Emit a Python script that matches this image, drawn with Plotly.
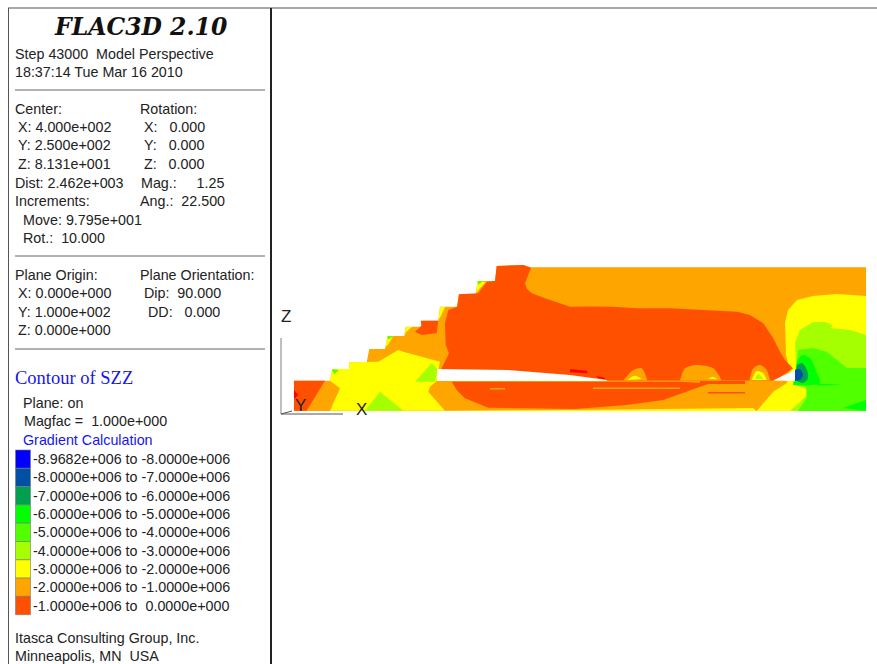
import plotly.graph_objects as go

# contour band colours (legend order)
band_colors = ["#0000FF", "#0050A5", "#00A050", "#00FF00", "#50FF00", "#A5FF00", "#FFFF00", "#FFA500", "#FF5000"]
band_labels = ["-8.9682e+006 to -8.0000e+006", "-8.0000e+006 to -7.0000e+006", "-7.0000e+006 to -6.0000e+006",
               "-6.0000e+006 to -5.0000e+006", "-5.0000e+006 to -4.0000e+006", "-4.0000e+006 to -3.0000e+006",
               "-3.0000e+006 to -2.0000e+006", "-2.0000e+006 to -1.0000e+006", "-1.0000e+006 to  0.0000e+000"]
ORANGE_RED, ORANGE, YELLOW, CHART, LIME, GREEN, SEA, STEEL = "#FF5000", "#FFA500", "#FFFF00", "#A5FF00", "#50FF00", "#00FF00", "#00A050", "#0050A5"
RED = "#FF0000"

# model outline
outline_x = [294, 330, 332.3, 349, 349, 366.7, 369.3, 385, 387.7, 404.3, 405.7, 420.7, 421.7, 438.3, 440, 456.7, 459, 475.7, 477.7, 495, 496.7, 523.3, 531, 866, 866, 294]
outline_y = [380.7, 380.7, 369, 369, 362.3, 362.3, 349, 349, 336, 336, 326.7, 326.7, 320.7, 320.7, 306.7, 306.7, 294, 294, 281, 281, 266, 265, 267.3, 267.3, 411, 411]
# stress regions, painted in order
toe_x = [294, 325, 306.7, 294]
toe_y = [380.7, 380.7, 410.7, 410.7]
toe_red_x = [294, 298.3, 295, 294]
toe_red_y = [390, 395, 398.3, 398]
yellow_left_x = [332.3, 349, 349, 366.7, 378.3, 398.3, 405, 421.7, 440, 438.3, 436.7, 430, 428.3, 445, 330, 340, 330]
yellow_left_y = [369, 369, 362.3, 362.3, 361.7, 350, 352.3, 356.7, 361.7, 370, 381, 386.7, 391.7, 410.7, 410.7, 388.3, 380.7]
chart_tri_x = [365, 380, 403.3]
chart_tri_y = [410.7, 391.7, 410.7]
chart_seam_x = [415, 431.7, 437.3, 435]
chart_seam_y = [381.7, 363.3, 369, 381.7]
pocket_x = [420.7, 438.3, 436.7, 421.7, 415, 421.7]
pocket_y = [320.7, 320.7, 333.3, 335, 331.7, 325.7]
bench_yellow_a_x = [387.7, 393, 388.5, 385.5]
bench_yellow_a_y = [336, 336.5, 344, 347]
bench_yellow_b_x = [440, 445, 441, 438.5]
bench_yellow_b_y = [307, 307, 316, 320]
bench_yellow_c_x = [477.7, 486, 481, 476]
bench_yellow_c_y = [281, 282, 287, 293]
bench_yellow_d_x = [405.7, 412, 406, 404.5]
bench_yellow_d_y = [327, 327, 332, 336]
green_tip_a_x = [331.7, 339, 334.3]
green_tip_a_y = [369.3, 370, 374.3]
green_tip_b_x = [387.7, 393, 388.2]
green_tip_b_y = [336, 336.4, 339.5]
green_tip_c_x = [477.7, 483, 478.5]
green_tip_c_y = [281, 281.3, 284.5]
body_x = [496.7, 523.3, 531, 528, 525, 527, 531.7, 545, 570, 590, 613, 637, 670, 703, 737, 750, 763.3, 773.3, 780, 785, 793, 775, 606.7, 508, 441, 441.7, 449, 445.7, 445, 448.3, 457.3, 459, 478.3, 486.7, 495]
body_y = [266, 265, 268, 276, 283.3, 289, 293.3, 298.3, 306.7, 306.5, 306.7, 308.3, 308.3, 310, 311.7, 315, 323.3, 338.3, 351.7, 360, 368.5, 380.5, 380.5, 380.5, 380.5, 368.3, 353.3, 345, 323.3, 310, 306.7, 294.3, 293.3, 281.7, 281]
red_a_x = [570, 586.7, 588, 570]
red_a_y = [369, 370.7, 373.3, 372.3]
red_b_x = [596, 604, 606, 598]
red_b_y = [376, 377.5, 379.5, 378]
hump1_x = [623.3, 633.3, 641.7, 647.3]
hump1_y = [380.5, 370, 368.3, 380.5]
hump1_in_x = [627, 635, 641.7]
hump1_in_y = [380, 375.7, 379]
hump2_x = [680, 685, 696.7, 713.3, 721.7]
hump2_y = [380.5, 368.3, 365, 368.3, 380.5]
hump2_in_x = [708, 713, 717.7]
hump2_in_y = [379, 376.7, 379.3]
hump3_x = [749.3, 753.3, 760, 766.7, 770]
hump3_y = [380.5, 368.3, 365, 370, 380.5]
hump3_in_x = [751.7, 756.7, 763.3, 766.7]
hump3_in_y = [380, 371, 373.3, 380]
hump3_core_x = [755, 758.3, 763.3]
hump3_core_y = [379, 374.3, 379]
lower_x = [451.7, 456.7, 465, 488.3, 575, 626.7, 663.3, 686.7, 710, 680]
lower_y = [381.7, 390, 398.3, 407.7, 409, 405, 400, 391.7, 383.3, 381.7]
strip_a_x = [593, 680, 680, 593]
strip_a_y = [387.5, 387.5, 389, 389]
strip_b_x = [700, 745, 745, 700]
strip_b_y = [381, 381, 384, 384]
strip_c_x = [708, 745, 745, 708]
strip_c_y = [392, 392, 393.5, 393.5]
strip_d_x = [490, 505, 505, 490]
strip_d_y = [388, 388, 389.5, 389.5]
base_yellow_x = [445, 570, 753, 756.7, 445]
base_yellow_y = [410.7, 410, 408, 411, 411]
right_yellow_x = [786, 785, 788, 797, 813, 837, 866, 866, 756.7, 773.3, 786.7, 790]
right_yellow_y = [355, 323, 310, 300, 296, 294, 296, 411, 411, 391.7, 383.3, 370]
right_chart_x = [795, 800, 813, 826, 833, 830, 850, 866, 866, 790, 805, 807, 797]
right_chart_y = [343, 330, 322, 322, 326, 328, 330, 335, 411, 411, 397, 390, 385]
right_lime_x = [798, 813, 827, 837, 847, 866, 866, 798, 807, 806, 795]
right_lime_y = [350, 348, 352, 360, 368, 368, 411, 411, 397, 387, 385]
right_green_x = [797, 802, 810, 817, 820, 793]
right_green_y = [362, 355, 358, 373, 383, 385]
green_strip_x = [817, 843, 817]
green_strip_y = [383.5, 384.5, 385.5]
corner_green_x = [843, 866, 866]
corner_green_y = [408, 400, 411]
right_sea_x = [797, 802, 807, 808, 803, 795]
right_sea_y = [365, 363, 370, 378, 383, 380]
right_steel_x = [795, 800, 803, 800, 795]
right_steel_y = [370, 369, 375, 380, 381]
gap_x = [437.3, 508, 570, 590, 606.7, 606.7, 437]
gap_y = [369, 370, 375, 378, 380, 381, 381]
gap_right_x = [773, 785, 795, 795]
gap_right_y = [380.5, 375, 370, 381]

regions = [
    (ORANGE, outline_x, outline_y, False), (ORANGE_RED, toe_x, toe_y, False), (RED, toe_red_x, toe_red_y, False),
    (YELLOW, yellow_left_x, yellow_left_y, False), (CHART, chart_tri_x, chart_tri_y, False), (CHART, chart_seam_x, chart_seam_y, False),
    (YELLOW, bench_yellow_a_x, bench_yellow_a_y, False), (YELLOW, bench_yellow_b_x, bench_yellow_b_y, False),
    (YELLOW, bench_yellow_c_x, bench_yellow_c_y, False), (YELLOW, bench_yellow_d_x, bench_yellow_d_y, False),
    (LIME, green_tip_a_x, green_tip_a_y, False), (LIME, green_tip_b_x, green_tip_b_y, False), (LIME, green_tip_c_x, green_tip_c_y, False),
    (ORANGE_RED, pocket_x, pocket_y, False), (YELLOW, right_yellow_x, right_yellow_y, False), (ORANGE_RED, body_x, body_y, False),
    (RED, red_a_x, red_a_y, False), (RED, red_b_x, red_b_y, False),
    (ORANGE_RED, lower_x, lower_y, False), (ORANGE, strip_a_x, strip_a_y, False), (ORANGE_RED, strip_b_x, strip_b_y, False),
    (ORANGE_RED, strip_c_x, strip_c_y, False), (ORANGE, strip_d_x, strip_d_y, False), (YELLOW, base_yellow_x, base_yellow_y, False),
    (ORANGE, hump1_x, hump1_y, True), (YELLOW, hump1_in_x, hump1_in_y, True), (ORANGE, hump2_x, hump2_y, True),
    (YELLOW, hump2_in_x, hump2_in_y, True), (ORANGE, hump3_x, hump3_y, True), (YELLOW, hump3_in_x, hump3_in_y, True),
    (CHART, hump3_core_x, hump3_core_y, True), (CHART, right_chart_x, right_chart_y, False),
    (LIME, right_lime_x, right_lime_y, False), (GREEN, right_green_x, right_green_y, True), (GREEN, green_strip_x, green_strip_y, False),
    (GREEN, corner_green_x, corner_green_y, False), (SEA, right_sea_x, right_sea_y, True), (STEEL, right_steel_x, right_steel_y, True),
    ("#FFFFFF", gap_x, gap_y, False), ("#FFFFFF", gap_right_x, gap_right_y, False),
]

# legend swatch boundaries
legend_tops = [450, 468.3, 486.6, 504.9, 523.2, 541.5, 559.8, 578.1, 596.4]
legend_h = 18.3

# panel text: (x, y, text)
panel_lines = [
    (15, 54, "Step 43000  Model Perspective"), (15, 72, "18:37:14 Tue Mar 16 2010"),
    (15, 109, "Center:"), (140, 109, "Rotation:"),
    (18, 127, "X: 4.000e+002"), (144, 127, "X:   0.000"),
    (18, 145, "Y: 2.500e+002"), (144, 145, "Y:   0.000"),
    (18, 164, "Z: 8.131e+001"), (144, 164, "Z:   0.000"),
    (15, 183, "Dist: 2.462e+003"), (141, 183, "Mag.:     1.25"),
    (15, 201, "Increments:"), (140, 201, "Ang.:  22.500"),
    (23, 220, "Move: 9.795e+001"), (23, 238, "Rot.:  10.000"),
    (15, 275, "Plane Origin:"), (140, 275, "Plane Orientation:"),
    (18, 293, "X: 0.000e+000"), (144, 293, "Dip:  90.000"),
    (18, 312, "Y: 1.000e+002"), (148, 312, "DD:   0.000"),
    (18, 330, "Z: 0.000e+000"),
    (23, 403, "Plane: on"), (24, 421, "Magfac =  1.000e+000"),
    (15, 638, "Itasca Consulting Group, Inc."), (15, 656, "Minneapolis, MN  USA"),
]
divider_y = [90, 256, 349]

fig = go.Figure()
for color, xs, ys, smooth in regions:
    fig.add_trace(go.Scatter(x=xs, y=ys, mode="lines", fill="toself", fillcolor=color,
                             line=dict(width=0, color=color, shape="spline" if smooth else "linear", smoothing=0.8),
                             hoverinfo="skip"))

# legend swatches
fig.add_trace(go.Bar(x=[23] * 9, y=[legend_h] * 9, base=legend_tops, width=15,
                     marker=dict(color=band_colors, line=dict(color="#777777", width=0.6)), hoverinfo="skip"))

# frame and dividers
frame = [([8, 877], [8, 8], 1, "#555555"), ([8.5, 8.5], [8, 664], 1, "#555555"), ([271, 271], [8, 664], 2, "#222222")]
for y in divider_y:
    frame.append(([15, 265], [y, y], 1, "#666666"))
# view axes triad
frame += [([281, 281], [338, 414], 1.5, "#AAAAAA"), ([281, 343], [414, 414], 1, "#555555"), ([281, 292], [414, 411], 1, "#555555")]
for xs, ys, w, c in frame:
    fig.add_trace(go.Scatter(x=xs, y=ys, mode="lines", line=dict(width=w, color=c), hoverinfo="skip"))

def label(x, y, text, size=14.3, color="#222222", family="Liberation Sans", anchor="left"):
    fig.add_annotation(x=x, y=y, text=text, showarrow=False, xanchor=anchor, yanchor="middle", align="left",
                       xref="x", yref="y", xshift=-2 if anchor == "left" else 0,
                       font=dict(size=size, color=color, family=family))

label(141, 27, "<b><i>FLAC3D 2.10</i></b>", size=23.5, color="#111111", family="DejaVu Serif", anchor="center")
for x, y, t in panel_lines:
    label(x, y, t)
label(15, 378, "Contour of SZZ", size=18.5, color="#1515F0", family="Liberation Serif")
label(23, 440, "Gradient Calculation", color="#1515F0")
for top, t in zip(legend_tops, band_labels):
    label(33, top + legend_h / 2, t)
label(281, 316, "Z", size=17)
label(300, 405, "Y", size=17, anchor="center")
label(361, 409, "X", size=17, anchor="center")

fig.update_layout(
    width=877, height=664, margin=dict(l=0, r=0, t=0, b=0), showlegend=False,
    paper_bgcolor="white", plot_bgcolor="white",
    xaxis=dict(range=[0, 877], visible=False, fixedrange=True),
    yaxis=dict(range=[664, 0], visible=False, fixedrange=True),
)
fig.write_html("out.html", config={"displayModeBar": False},
               post_script="document.body.style.margin='0';document.body.style.overflow='hidden';")
